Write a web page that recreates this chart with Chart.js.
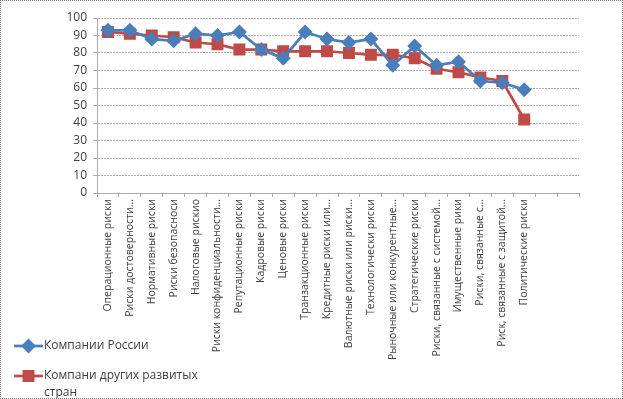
<!DOCTYPE html>
<html><head><meta charset="utf-8">
<script src="https://cdn.jsdelivr.net/npm/chart.js@4/dist/chart.umd.min.js"></script>
<style>
html,body{margin:0;padding:0;background:#fff;}
#wrap{position:relative;width:621px;height:397px;border:1px dotted #777;}
canvas{display:block;}
</style></head>
<body>
<div id="wrap"><canvas id="c" width="621" height="397"></canvas></div>
<script>
const categories = [
  "Операционные риски","Риски достоверности...","Нормативные риски","Риски безопасноси",
  "Налоговые рискио","Риски конфиденциальности...","Репутационные риски","Кадровые риски",
  "Ценовые риски","Транзакционные риски","Кредитные риски или...","Валютные риски или риски...",
  "Технологически риски","Рыночные или конкурентные...","Стратегические риски",
  "Риски, связанные с системой...","Имущественные рики","Риски, связанные с...",
  "Риск, связанные с защитой...","Политические риски","",""
];
const russia = [93,93,88,87,91,90,92,82,77,92,88,86,88,73,84,73,75,64,63,59];
const developed = [92,91,90,89,86,85,82,82,81,81,81,80,79,79,77,71,69,66,64,42];
const seriesNames = ["Компании России","Компани других развитых\nстран"];
const yTicks = {min:0,max:100,step:10};

const BLUE = "#4a7ebb", RED = "#be4b48";

const legendPlugin = {
  id:"customLegend",
  afterDraw(chart){
    const ctx = chart.ctx;
    ctx.save();
    const items = [
      {color:BLUE, style:"rectRot", r:5.5, y:345, lines:seriesNames[0].split("\n")},
      {color:RED, style:"rect", r:6.5, y:375, lines:seriesNames[1].split("\n")}
    ];
    items.forEach(it=>{
      ctx.strokeStyle = it.color; ctx.lineWidth = 2.75;
      ctx.beginPath(); ctx.moveTo(13,it.y); ctx.lineTo(42,it.y); ctx.stroke();
      ctx.fillStyle = it.color;
      Chart.helpers.drawPoint(ctx,{pointStyle:it.style,radius:it.r,borderWidth:1},27.5,it.y);
      ctx.fill();
      ctx.fillStyle = "#404040";
      ctx.font = "12px 'Open Sans', sans-serif";
      ctx.textBaseline = "middle";
      it.lines.forEach((l,i)=>ctx.fillText(l,43,it.y + i*17));
    });
    ctx.restore();
  }
};

new Chart(document.getElementById("c"),{
  type:"line",
  data:{
    labels:categories,
    datasets:[
      {label:seriesNames[0],data:russia,borderColor:BLUE,backgroundColor:BLUE,borderWidth:2.75,
       pointStyle:"rectRot",pointRadius:5.5,pointBorderColor:BLUE,pointBackgroundColor:BLUE,tension:0},
      {label:seriesNames[1],data:developed,borderColor:RED,backgroundColor:RED,borderWidth:2.75,
       pointStyle:"rect",pointRadius:6.5,pointBorderColor:RED,pointBackgroundColor:RED,tension:0}
    ]
  },
  options:{
    responsive:false,animation:false,
    layout:{padding:{left:0,top:17,right:43,bottom:0}},
    plugins:{legend:{display:false},tooltip:{enabled:false}},
    scales:{
      x:{
        offset:true,
        afterFit(s){ s.height = 205; },
        grid:{offset:true,drawOnChartArea:false,drawTicks:true,tickLength:4,color:"#aaa"},
        border:{color:"#aaa",dash:[2,1]},
        ticks:{autoSkip:false,maxRotation:90,minRotation:90,color:"#404040",padding:2,
               font:{family:"'Open Sans', sans-serif",size:10.5}}
      },
      y:{
        min:yTicks.min,max:yTicks.max,
        afterFit(s){ s.width = 96; },
        ticks:{stepSize:yTicks.step,color:"#404040",padding:6,font:{family:"'Open Sans', sans-serif",size:12}},
        grid:{color:"#b0b0b0",tickLength:4},
        border:{color:"#aaa",dash:[2,1]}
      }
    }
  },
  plugins:[legendPlugin]
});
</script>
</body></html>
